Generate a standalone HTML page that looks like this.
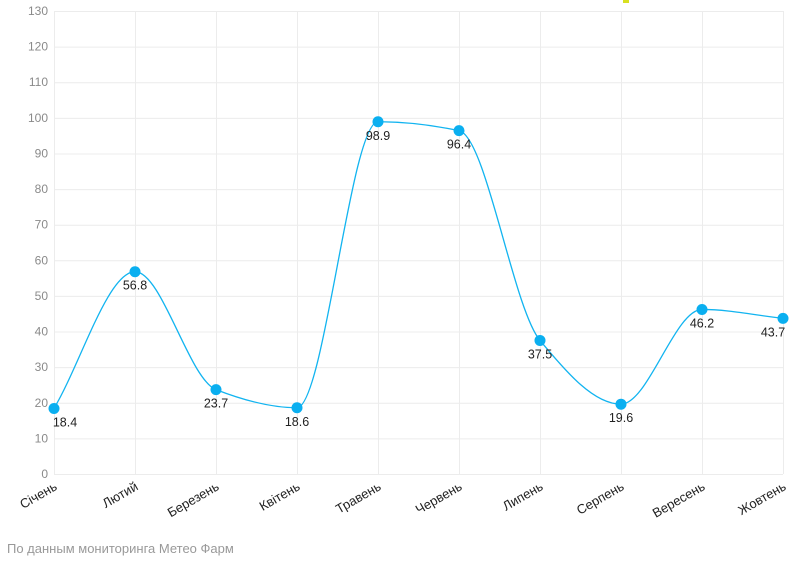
<!DOCTYPE html>
<html><head><meta charset="utf-8"><style>
body{margin:0;background:#fff;width:800px;height:568px;overflow:hidden;font-family:"Liberation Sans","DejaVu Sans",sans-serif}
</style></head><body>
<svg id="s" width="800" height="568" xmlns="http://www.w3.org/2000/svg">
<g id="grid" stroke="#ececec" stroke-width="1"></g>
<g id="yl" font-size="12" fill="#8a8a8a" text-anchor="end"></g>
<g id="xl" font-size="13" fill="#222" text-anchor="end"></g>
<path id="ln" fill="none" stroke="#12b4f0" stroke-width="1.3"/>
<g id="pts" fill="#0aaff0"></g>
<g id="vl" font-size="12.5" fill="#222" text-anchor="middle"></g>
<rect x="623" y="0" width="6" height="3" fill="#d8e020"/>
<text x="7" y="553" font-size="13" fill="#999">По данным мониторинга Метео Фарм</text>
</svg>
<script>
var N="http://www.w3.org/2000/svg";
function el(p,t,a,txt){var e=document.createElementNS(N,t);for(var k in a)e.setAttribute(k,a[k]);if(txt!=null)e.textContent=txt;document.getElementById(p).appendChild(e);return e;}
var Y=function(v){return 474-v*3.5615},X=function(i){return 54+81*i};
for(var v=0;v<=130;v+=10){el("grid","line",{x1:54,x2:783,y1:Y(v)+.5,y2:Y(v)+.5});el("yl","text",{x:48,y:Y(v)+4},v);}
var m=["Січень","Лютий","Березень","Квітень","Травень","Червень","Липень","Серпень","Вересень","Жовтень"];
var d=[18.4,56.8,23.7,18.6,98.9,96.4,37.5,19.6,46.2,43.7];
for(var i=0;i<10;i++){el("grid","line",{x1:X(i)+.5,x2:X(i)+.5,y1:Y(130),y2:474});
el("xl","text",{x:X(i)+4,y:489,transform:"rotate(-30 "+(X(i)+4)+" 489)"},m[i]);}
var xs=[],ys=[];for(i=0;i<10;i++){xs.push(X(i));ys.push(Y(d[i]));}
var n=10,dl=[],t=[];for(i=0;i<n-1;i++)dl.push((ys[i+1]-ys[i])/(xs[i+1]-xs[i]));
t[0]=dl[0];t[n-1]=dl[n-2];
for(i=1;i<n-1;i++){if(dl[i-1]*dl[i]<=0)t[i]=0;else{var h0=xs[i]-xs[i-1],h1=xs[i+1]-xs[i];t[i]=(3*(h0+h1))/((2*h1+h0)/dl[i-1]+(h1+2*h0)/dl[i]);}}
var p="M"+xs[0]+","+ys[0];
for(i=0;i<n-1;i++){var h=(xs[i+1]-xs[i])/3;p+="C"+(xs[i]+h)+","+(ys[i]+h*t[i])+" "+(xs[i+1]-h)+","+(ys[i+1]-h*t[i+1])+" "+xs[i+1]+","+ys[i+1];}
document.getElementById("ln").setAttribute("d",p);
for(i=0;i<10;i++){el("pts","circle",{cx:xs[i],cy:ys[i],r:5.5});
el("vl","text",{x:i==0?xs[i]+11:(i==9?xs[i]-10:xs[i]),y:ys[i]+18},d[i]);}
</script>
</body></html>
